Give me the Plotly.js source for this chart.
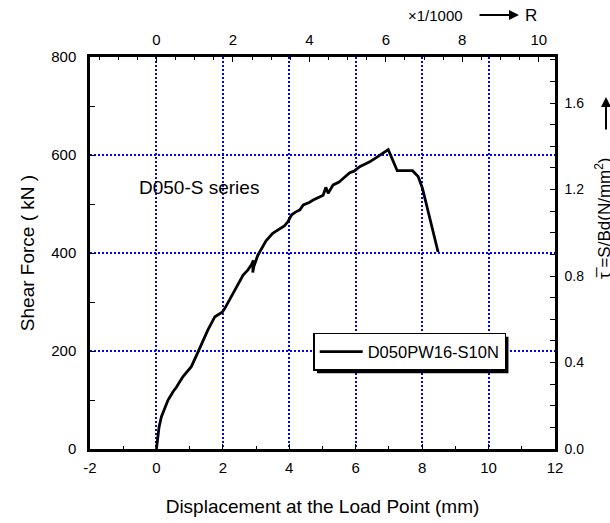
<!DOCTYPE html>
<html>
<head>
<meta charset="utf-8">
<script src="https://cdn.plot.ly/plotly-3.0.1.min.js"></script>
<style>
  html, body { margin: 0; padding: 0; background: #fff; }
  #chart { width: 610px; height: 523px; }
</style>
</head>
<body>
<div id="chart"></div>
<script>
// Load–displacement record of specimen D050PW16-S10N
const displacementMm = [0, 0.03, 0.08, 0.15, 0.25, 0.35, 0.5, 0.6, 0.8, 1.05, 1.2, 1.3, 1.38, 1.55, 1.76, 1.9, 1.98, 2.06, 2.31, 2.45, 2.61, 2.75, 2.86, 2.92, 2.90, 2.93, 3.05, 3.21, 3.3, 3.5, 3.71, 3.85, 3.96, 4.07, 4.2, 4.32, 4.42, 4.6, 4.72, 4.9, 5.02, 5.10, 5.17, 5.32, 5.5, 5.62, 5.82, 5.95, 6.12, 6.3, 6.42, 6.63, 6.8, 6.98, 7.25, 7.71, 7.88, 8.01, 8.48];
const shearForceKN = [0, 20, 45, 66, 85, 100, 117, 126, 148, 168, 190, 205, 214, 243, 270, 276, 279, 287, 318, 333, 355, 365, 376, 385, 360, 372, 395, 416, 425, 440, 450, 455, 464, 478, 484, 488, 498, 503, 508, 515, 518, 534, 522, 539, 545, 552, 564, 567, 576, 582, 586, 595, 602, 611, 568, 568, 556, 532, 402];

const seriesName = 'D050PW16-S10N';
const groupLabel = 'D050-S series';

// Tick labels (plain hyphen for negatives)
const xTickVals = [-2, 0, 2, 4, 6, 8, 10, 12];
const xTickText = ['-2', '0', '2', '4', '6', '8', '10', '12'];

// Secondary scales: drift angle R (x1/1000) and nominal shear stress S/Bd
const mmPerRUnit = 1.151;      // mm of displacement per 1/1000 rad
const kNPerStress = 441.3;     // kN per N/mm^2

const xRange = [-2, 12];
const yRange = [0, 800];

const FONT = 'Liberation Sans, Arial, Helvetica, sans-serif';
const BLUE = 'rgb(0,0,255)';

const mainTrace = {
  x: displacementMm,
  y: shearForceKN,
  type: 'scatter',
  mode: 'lines',
  name: seriesName,
  line: { color: '#000', width: 2.8 },
  xaxis: 'x',
  yaxis: 'y'
};

// Same record on the R / S/Bd scales, so the top and right axes get drawn
const secondaryTrace = {
  x: displacementMm.map(v => v / mmPerRUnit),
  y: shearForceKN.map(v => v / kNPerStress),
  type: 'scatter',
  mode: 'lines',
  line: { color: 'rgba(0,0,0,0)', width: 0 },
  showlegend: false,
  hoverinfo: 'skip',
  xaxis: 'x2',
  yaxis: 'y2'
};

const tickFont = { family: FONT, size: 15, color: '#000' };

const layout = {
  width: 610,
  height: 523,
  margin: { l: 90, r: 55, t: 57, b: 74, pad: 0 },
  paper_bgcolor: '#fff',
  plot_bgcolor: '#fff',
  font: { family: FONT, color: '#000' },
  showlegend: true,
  legend: {
    x: 0.48, y: 0.296, xanchor: 'left', yanchor: 'top',
    bgcolor: '#fff', bordercolor: '#000', borderwidth: 1.5,
    itemwidth: 43,
    font: { family: FONT, size: 16.5, color: '#000' }
  },
  xaxis: {
    range: xRange, tickmode: 'array', tickvals: xTickVals, ticktext: xTickText,
    ticks: 'inside', ticklen: 5, tickwidth: 1, tickcolor: '#000',
    minor: { dtick: 1, tick0: 0, ticks: 'inside', ticklen: 3, tickcolor: '#000', showgrid: false },
    showline: true, linecolor: '#000', linewidth: 2.5,
    showgrid: true, gridcolor: BLUE, gridwidth: 1.5, griddash: '2px,2px',
    zeroline: false, tickfont: tickFont, ticklabelstandoff: 3,
    title: { text: 'Displacement at the Load Point (mm)', font: { family: FONT, size: 19, color: '#000' }, standoff: 25 }
  },
  yaxis: {
    range: yRange, dtick: 200, tick0: 0,
    ticks: 'inside', ticklen: 5, tickwidth: 1, tickcolor: '#000',
    minor: { dtick: 100, ticks: 'inside', ticklen: 5, tickcolor: '#000', showgrid: false },
    showline: true, linecolor: '#000', linewidth: 2.5,
    showgrid: true, gridcolor: BLUE, gridwidth: 1.5, griddash: '2px,2px',
    zeroline: false, tickfont: tickFont, ticklabelstandoff: 8,
    title: { text: 'Shear Force ( kN )', font: { family: FONT, size: 19, color: '#000' }, standoff: 12 }
  },
  xaxis2: {
    overlaying: 'x', side: 'top', anchor: 'y',
    range: [xRange[0] / mmPerRUnit, xRange[1] / mmPerRUnit], dtick: 2, tick0: 0,
    ticks: 'inside', ticklen: 5, tickwidth: 1, tickcolor: '#000',
    minor: { dtick: 0.5, ticks: 'inside', ticklen: 3, tickcolor: '#000', showgrid: false },
    showline: true, linecolor: '#000', linewidth: 2.5,
    showgrid: false, zeroline: false, tickfont: tickFont, ticklabelstandoff: 3
  },
  yaxis2: {
    overlaying: 'y', side: 'right', anchor: 'x',
    range: [yRange[0] / kNPerStress, yRange[1] / kNPerStress], dtick: 0.4, tick0: 0,
    tickformat: '.1f',
    ticks: 'inside', ticklen: 5, tickwidth: 1, tickcolor: '#000',
    minor: { dtick: 0.1, ticks: 'inside', ticklen: 5, tickcolor: '#000', showgrid: false },
    showline: true, linecolor: '#000', linewidth: 2.5,
    showgrid: false, zeroline: false, tickfont: { family: FONT, size: 14, color: '#000' },
    ticklabelstandoff: 4
  },
  shapes: [
    // drop shadow behind the legend box (placed after the legend is measured)
    { type: 'rect', xref: 'paper', yref: 'paper', layer: 'above',
      x0: 0.5, x1: 0.5, y0: 0.2, y1: 0.2,
      fillcolor: '#000', line: { width: 0 } }
  ],
  annotations: [
    { text: groupLabel, xref: 'paper', yref: 'paper', x: 0.101, y: 0.668,
      xanchor: 'left', yanchor: 'middle', showarrow: false,
      font: { family: FONT, size: 19, color: '#000' } },
    { text: '×1/1000', xref: 'paper', yref: 'paper', x: 0.744, y: 1.107,
      xanchor: 'center', yanchor: 'middle', showarrow: false,
      font: { family: FONT, size: 15, color: '#000' } },
    { text: '', xref: 'paper', yref: 'paper', x: (519 - 90) / 465, y: 1.107,
      ax: -41, ay: 0, showarrow: true, arrowhead: 2, arrowsize: 1, arrowwidth: 2, arrowcolor: '#000' },
    { text: 'R', xref: 'paper', yref: 'paper', x: (531 - 90) / 465, y: 1.107,
      xanchor: 'center', yanchor: 'middle', showarrow: false,
      font: { family: FONT, size: 17, color: '#000' } },
    { text: '', xref: 'paper', yref: 'paper', x: (606 - 90) / 465, y: (449 - 97) / 392,
      ax: 0, ay: 34, showarrow: true, arrowhead: 2, arrowsize: 1, arrowwidth: 2, arrowcolor: '#000' },
    { text: 'τ\u0305 =S/Bd(N/mm<sup>2</sup>)', xref: 'paper', yref: 'paper',
      x: (603 - 90) / 465, y: (449 - 218) / 392, textangle: -90,
      xanchor: 'center', yanchor: 'middle', showarrow: false,
      font: { family: FONT, size: 17, color: '#000' } }
  ]
};

Plotly.newPlot('chart', [mainTrace, secondaryTrace], layout, { displayModeBar: false, responsive: false })
  .then(gd => {
    // offset shadow 3px right and down from the rendered legend box
    const bg = gd.querySelector('.legend .bg');
    if (!bg) return;
    const r = bg.getBoundingClientRect();
    const g = gd.getBoundingClientRect();
    const s = gd._fullLayout._size;
    const px = v => (v - g.left - s.l) / s.w;
    const py = v => 1 - (v - g.top - s.t) / s.h;
    return Plotly.relayout(gd, {
      'shapes[0].x0': px(r.left + 3), 'shapes[0].x1': px(r.right + 3),
      'shapes[0].y0': py(r.bottom + 3), 'shapes[0].y1': py(r.top + 3)
    });
  });
</script>
</body>
</html>
